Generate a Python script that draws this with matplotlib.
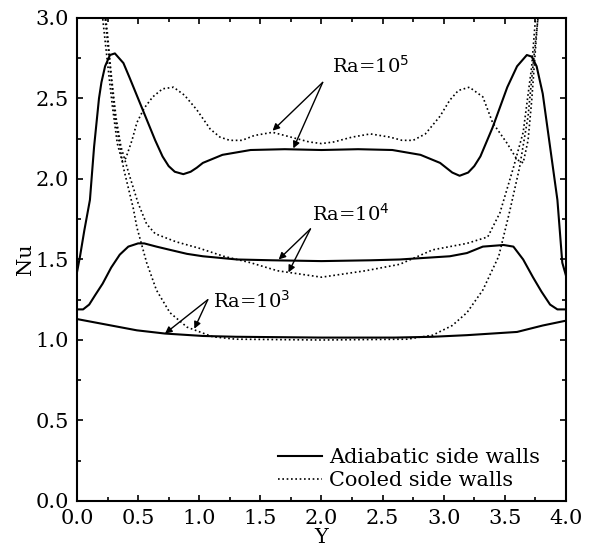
import numpy as np
import matplotlib
matplotlib.use("Agg")
import matplotlib.pyplot as plt
from matplotlib.ticker import MultipleLocator

plt.rcParams['font.family'] = 'DejaVu Serif'
plt.rcParams['mathtext.fontset'] = 'dejavusans'

# Adiabatic side walls (solid)
x_adi_5 = [0.0, 0.025, 0.06, 0.106, 0.14, 0.18, 0.20, 0.23, 0.27, 0.31, 0.38, 0.43, 0.50, 0.57,
           0.64, 0.70, 0.75, 0.80, 0.87, 0.93, 0.98, 1.03, 1.19, 1.42, 1.7, 2.0, 2.3, 2.58, 2.81,
           2.97, 3.02, 3.07, 3.13, 3.20, 3.25, 3.30, 3.40, 3.52, 3.60, 3.68, 3.72, 3.76, 3.81,
           3.87, 3.93, 3.97, 4.0]
y_adi_5 = [1.42, 1.52, 1.68, 1.87, 2.20, 2.50, 2.60, 2.70, 2.77, 2.78, 2.72, 2.63, 2.50, 2.37,
           2.24, 2.14, 2.08, 2.045, 2.03, 2.045, 2.07, 2.10, 2.15, 2.18, 2.185, 2.18, 2.185, 2.18,
           2.15, 2.10, 2.07, 2.04, 2.02, 2.04, 2.08, 2.14, 2.32, 2.57, 2.70, 2.77, 2.76, 2.70,
           2.53, 2.20, 1.87, 1.48, 1.40]

x_adi_4 = [0.0, 0.05, 0.10, 0.15, 0.21, 0.28, 0.35, 0.42, 0.50, 0.55, 0.65, 0.76, 0.90, 1.03,
           1.31, 1.6, 2.0, 2.4, 2.64, 3.05, 3.19, 3.32, 3.49, 3.57, 3.65, 3.73, 3.80, 3.87, 3.93, 4.0]
y_adi_4 = [1.19, 1.19, 1.22, 1.28, 1.35, 1.45, 1.53, 1.58, 1.60, 1.60, 1.58, 1.56, 1.535, 1.52,
           1.50, 1.495, 1.49, 1.495, 1.50, 1.52, 1.54, 1.58, 1.59, 1.58, 1.50, 1.39, 1.30, 1.22, 1.19, 1.19]

x_adi_3 = [0.0, 0.21, 0.49, 0.72, 1.03, 1.3, 2.0, 2.6, 2.91, 3.19, 3.60, 3.81, 4.0]
y_adi_3 = [1.13, 1.10, 1.06, 1.04, 1.025, 1.02, 1.015, 1.015, 1.02, 1.03, 1.05, 1.09, 1.12]

# Cooled side walls (dotted)
x_cool_5 = [0.19, 0.21, 0.25, 0.29, 0.33, 0.37, 0.40, 0.45, 0.49, 0.55, 0.62, 0.70, 0.79, 0.88,
            0.98, 1.09, 1.17, 1.25, 1.35, 1.45, 1.60, 1.75, 1.90, 2.0, 2.10, 2.25, 2.40, 2.56,
            2.66, 2.75, 2.85, 2.97, 3.05, 3.12, 3.21, 3.32, 3.40, 3.52, 3.60, 3.65, 3.69, 3.72,
            3.75, 3.78]
y_cool_5 = [3.1, 3.0, 2.72, 2.45, 2.22, 2.11, 2.13, 2.24, 2.35, 2.44, 2.51, 2.56, 2.57, 2.52,
            2.43, 2.31, 2.26, 2.24, 2.24, 2.27, 2.29, 2.26, 2.23, 2.22, 2.23, 2.26, 2.28, 2.26,
            2.24, 2.24, 2.28, 2.39, 2.49, 2.55, 2.57, 2.51, 2.35, 2.22, 2.12, 2.10, 2.24, 2.49,
            2.80, 3.1]

x_cool_4 = [0.22, 0.25, 0.28, 0.32, 0.36, 0.43, 0.50, 0.57, 0.64, 0.81, 1.0, 1.2, 1.42, 1.64,
            2.0, 2.36, 2.64, 2.91, 3.19, 3.36, 3.46, 3.57, 3.65, 3.72, 3.75, 3.77]
y_cool_4 = [3.1, 2.90, 2.65, 2.38, 2.20, 2.02, 1.85, 1.72, 1.66, 1.61, 1.57, 1.52, 1.48, 1.43,
            1.39, 1.43, 1.47, 1.56, 1.60, 1.64, 1.79, 2.07, 2.29, 2.70, 2.99, 3.1]

x_cool_3 = [0.22, 0.23, 0.27, 0.31, 0.38, 0.46, 0.49, 0.57, 0.65, 0.76, 0.90, 1.11, 1.3, 2.0,
            2.7, 2.91, 3.07, 3.19, 3.32, 3.45, 3.54, 3.62, 3.69, 3.73, 3.77, 3.78]
y_cool_3 = [3.1, 3.0, 2.70, 2.39, 2.07, 1.82, 1.70, 1.48, 1.31, 1.17, 1.08, 1.02, 1.005, 1.0,
            1.005, 1.03, 1.09, 1.17, 1.31, 1.52, 1.80, 2.07, 2.39, 2.70, 2.99, 3.1]

fig = plt.figure(figsize=(5.93, 5.5), dpi=100)
ax = fig.add_axes([0.1298, 0.0891, 0.8246, 0.8782])

dot = (0, (1, 1.6))
ax.plot(x_adi_5, y_adi_5, color='black', lw=1.5, label='Adiabatic side walls')
ax.plot(x_adi_4, y_adi_4, color='black', lw=1.5)
ax.plot(x_adi_3, y_adi_3, color='black', lw=1.5)
ax.plot(x_cool_5, y_cool_5, color='black', lw=1.2, ls=dot, label='Cooled side walls')
ax.plot(x_cool_4, y_cool_4, color='black', lw=1.2, ls=dot)
ax.plot(x_cool_3, y_cool_3, color='black', lw=1.2, ls=dot)

ax.set_xlim(0, 4)
ax.set_ylim(0, 3)
ax.xaxis.set_major_locator(MultipleLocator(0.5))
ax.xaxis.set_minor_locator(MultipleLocator(0.25))
ax.yaxis.set_major_locator(MultipleLocator(0.5))
ax.yaxis.set_minor_locator(MultipleLocator(0.25))
ax.xaxis.set_major_formatter(plt.FormatStrFormatter('%.1f'))
ax.yaxis.set_major_formatter(plt.FormatStrFormatter('%.1f'))
ax.tick_params(which='both', direction='in', top=True, right=True, labelsize=15, width=1.2)
ax.tick_params(which='major', length=4.5, pad=6)
ax.tick_params(which='minor', length=3)
for s in ax.spines.values():
    s.set_linewidth(1.5)

ax.set_xlabel('Y', fontsize=15, labelpad=0)
ax.set_ylabel('Nu', fontsize=15, labelpad=0)

arrow = dict(arrowstyle='-|>', color='black', lw=1.0, mutation_scale=10, shrinkA=0, shrinkB=0)
ax.text(2.09, 2.66, r'Ra=10$^{5}$', fontsize=14)
ax.annotate('', xy=(1.60, 2.30), xytext=(2.01, 2.60), arrowprops=arrow)
ax.annotate('', xy=(1.77, 2.19), xytext=(2.01, 2.60), arrowprops=arrow)

ax.text(1.92, 1.74, r'Ra=10$^{4}$', fontsize=14)
ax.annotate('', xy=(1.65, 1.50), xytext=(1.91, 1.69), arrowprops=arrow)
ax.annotate('', xy=(1.73, 1.42), xytext=(1.91, 1.69), arrowprops=arrow)

ax.text(1.11, 1.20, r'Ra=10$^{3}$', fontsize=14)
ax.annotate('', xy=(0.72, 1.04), xytext=(1.07, 1.25), arrowprops=arrow)
ax.annotate('', xy=(0.96, 1.07), xytext=(1.07, 1.25), arrowprops=arrow)

ax.legend(loc='lower right', bbox_to_anchor=(0.985, -0.017), frameon=False, fontsize=15,
          handlelength=2.1, handletextpad=0.35, labelspacing=0.2)

fig.savefig('out.png', dpi=100)
